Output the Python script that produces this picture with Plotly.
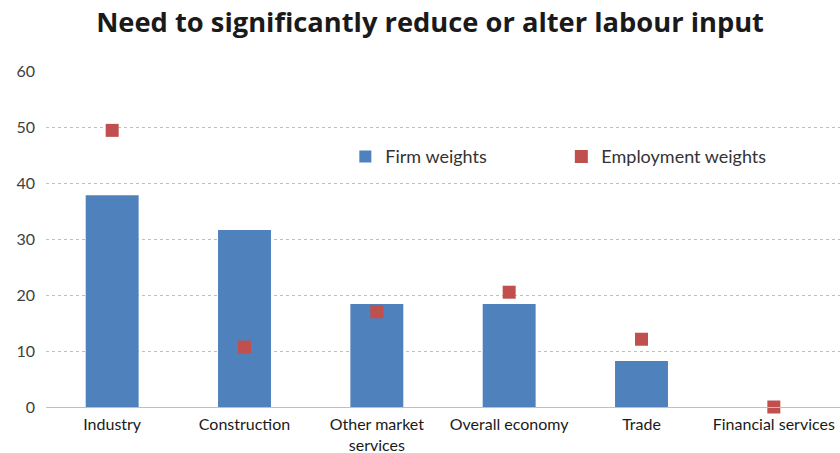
import plotly.graph_objects as go

categories = ["Industry", "Construction", "Other market<br>services", "Overall economy", "Trade", "Financial services"]
firm_weights = [37.8, 31.6, 18.4, 18.4, 8.2, 0.0]
employment_weights = [49.4, 10.7, 17.0, 20.5, 12.1, 0.0]
y_ticks = [0, 10, 20, 30, 40, 50, 60]

fig = go.Figure()
fig.add_trace(go.Bar(x=categories, y=firm_weights, name="Firm weights",
                     marker=dict(color="#4F81BD", line=dict(width=0)), width=0.4))
fig.add_trace(go.Scatter(x=categories, y=employment_weights, name="Employment weights",
                         mode="markers", cliponaxis=False,
                         marker=dict(symbol="square", size=13, color="#C0504D")))

fig.update_layout(
    width=840, height=453,
    margin=dict(l=46, r=0, t=71, b=46, autoexpand=False),
    plot_bgcolor="white", paper_bgcolor="white",
    title=dict(text="<b>Need to significantly reduce or alter labour input</b>",
               x=0.512, xanchor="center", y=0.95, yanchor="middle",
               font=dict(family="Open Sans", size=27.3, color="#1a1a1a")),
    font=dict(family="Lato", size=16, color="#333333"),
    legend=dict(orientation="h", x=0.377, y=0.745, xanchor="left", yanchor="middle",
                entrywidth=171, entrywidthmode="pixels",
                font=dict(family="Lato", size=18, color="#333333"),
                bgcolor="rgba(0,0,0,0)", traceorder="normal"),
    showlegend=True,
)
fig.update_yaxes(range=[0, 60], tickvals=y_ticks, showgrid=True, automargin=False,
                 gridcolor="#bfbfbf", griddash="dot", gridwidth=1,
                 zeroline=False, showline=False, ticks="", ticklabelstandoff=10,
                 tickfont=dict(family="Lato", size=16, color="#404040"))
fig.update_xaxes(showline=True, linecolor="#bfbfbf", linewidth=1, ticks="", automargin=False,
                 ticklabelstandoff=3,
                 tickfont=dict(family="Lato", size=16, color="#1a1a1a"))

fig.write_html("out.html")
